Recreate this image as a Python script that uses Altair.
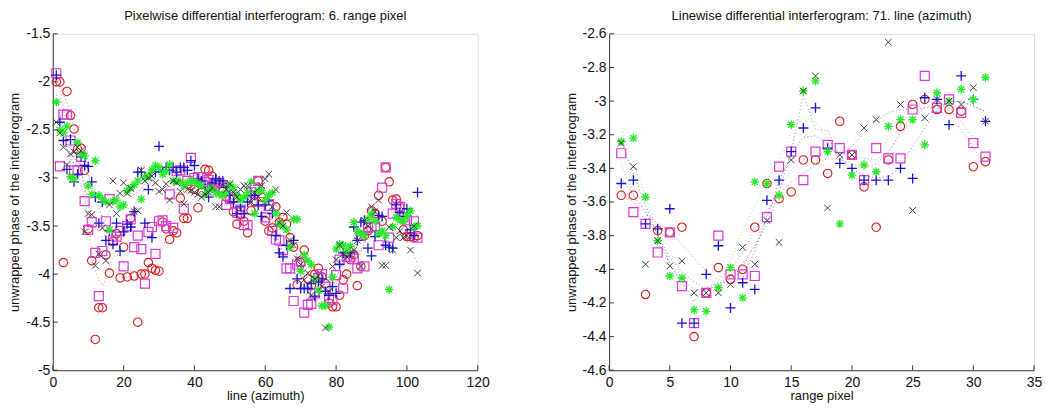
import altair as alt
import pandas as pd

# ---------------- Left panel: pixelwise (x = line (azimuth), 1..103) ----------------
left_x = list(range(1, 104))
left_red = [-2.00, -2.00, -3.88, -2.10, -2.35, -2.49, -2.70, -2.69, -2.92, -3.53,
            -3.86, -4.68, -4.35, -4.35, -3.80, -3.99, -3.66, -3.58, -4.04, -3.72,
            -4.03, -3.42, -4.02, -4.50, -4.00, -4.00, -3.88, -3.94, -3.96, -3.97,
            -3.46, -3.53, -3.64, -3.55, -3.57, -3.21, -3.42, -3.42, -3.08, -3.12,
            -3.31, -3.15, -2.91, -2.92, -2.98, -3.10, -3.05, -3.12, -3.20, -3.22,
            -3.35, -3.48, -3.38, -3.45, -3.57, -3.34, -3.25, -3.03, -3.20, -3.45,
            -3.55, -3.52, -3.30, -3.46, -3.41, -3.48, -3.62, -3.72, -4.11, -3.88,
            -3.75, -4.05, -4.12, -4.00, -3.94, -4.03, -4.10, -4.30, -4.34, -4.34,
            -4.22, -4.06, -4.00, -3.85, -3.80, -4.12, -3.92, -3.60, -3.55, -3.34,
            -3.37, -3.18, -3.45, -2.89, -3.04, -3.23, -3.22, -3.30, -3.54, -3.61,
            -3.61, -3.62, -3.60]
left_magenta = [-1.91, -2.88, -2.34, -2.34, -2.61, -2.92, -2.92, -2.78, -3.24, -3.54,
                -3.46, -3.78, -4.23, -3.76, -3.45, -3.22, -3.65, -3.61, -3.55, -3.92,
                -3.50, -3.43, -3.72, -3.60, -3.74, -4.10, -3.56, -3.51, -3.79, -3.45,
                -3.44, -3.50, -3.17, -3.52, -2.93, -2.92, -3.32, -3.03, -2.79, -3.00,
                -2.99, -2.99, -3.04, -3.02, -3.08, -3.05, -3.05, -3.10, -3.28, -3.22,
                -3.20, -3.36, -3.33, -3.49, -3.49, -3.15, -3.10, -3.03, -3.25, -3.41,
                -3.29, -3.55, -3.64, -3.65, -3.75, -3.94, -3.94, -4.28, -3.90, -3.87,
                -4.40, -4.32, -4.31, -4.20, -4.04, -4.00, -4.13, -4.25, -4.27, -4.01,
                -3.85, -4.15, -3.82, -3.82, -3.84, -3.94, -3.60, -3.92, -3.52, -3.51,
                -3.50, -3.70, -3.10, -2.89, -3.62, -3.37, -3.27, -3.30, -3.41, -3.44,
                -3.58, -3.45, -3.62]
left_blue = [-1.93, -2.42, -2.61, -2.91, -2.60, -3.04, -2.96, -2.78, -2.87, -2.88,
             -3.04, -3.20, -3.47, -3.25, -3.65, -3.55, -3.69, -3.47, -3.76, -3.56,
             -3.48, -3.51, -3.35, -2.94, -2.94, -3.47, -3.12, -3.62, -2.94, -2.67,
             -2.93, -2.89, -2.92, -2.89, -2.94, -2.89, -2.89, -2.92, -2.82, -2.87,
             -3.01, -3.03, -3.10, -3.20, -3.05, -3.01, -3.03, -3.03, -3.10, -3.18,
             -3.25, -3.37, -3.30, -3.37, -3.25, -3.18, -3.18, -3.28, -3.40, -3.28,
             -3.23, -3.37, -3.60, -3.78, -3.82, -3.70, -4.15, -3.65, -4.05, -4.15,
             -4.15, -4.15, -4.10, -4.23, -4.08, -4.05, -4.18, -4.22, -4.13, -4.20,
             -3.90, -3.78, -3.78, -3.78, -3.51, -3.65, -3.46, -3.44, -3.73, -3.81,
             -3.61, -3.39, -3.40, -3.70, -3.72, -3.73, -3.28, -3.36, -3.40, -3.32,
             -3.54, -3.60, -3.15]
left_black = [-2.42, -2.53, -2.68, -2.86, -2.75, -2.73, -2.68, -2.72, -3.56, -3.37,
              -3.38, -3.91, -3.79, -3.52, -3.86, -3.28, -3.03, -3.37, -3.16, -3.05,
              -3.16, -3.11, -3.35, -3.34, -2.92, -3.03, -3.00, -2.98, -3.05, -3.14,
              -3.12, -3.06, -3.23, -3.03, -3.05, -3.14, -3.27, -3.12, -3.13, -3.15,
              -3.17, -3.20, -3.17, -3.15, -3.10, -3.30, -3.30, -3.08, -3.12, -3.06,
              -3.15, -3.20, -3.12, -3.08, -3.08, -3.25, -3.15, -3.20, -3.08, -3.01,
              -2.96, -3.30, -3.12, -3.46, -3.50, -3.36, -3.65, -3.70, -3.84, -3.90,
              -4.06, -3.99, -4.22, -4.05, -4.02, -4.13, -4.56, -4.18, -3.92, -3.85,
              -3.70, -3.79, -3.82, -3.80, -3.75, -3.65, -3.92, -3.44, -3.50, -3.30,
              -3.35, -3.23, -3.91, -3.91, -3.51, -3.75, -3.62, -3.55, -3.62, -3.60,
              -3.75, -3.50, -3.99]
left_green = [-2.21, -2.50, -2.53, -2.46, -2.99, -3.01, -2.63, -2.75, -2.77, -3.08,
              -3.17, -2.82, -3.18, -3.22, -3.25, -3.54, -3.24, -3.23, -3.30, -3.28,
              -3.13, -3.10, -3.07, -3.03, -3.22, -2.99, -2.98, -2.92, -2.87, -2.89,
              -2.96, -2.93, -2.86, -3.03, -3.03, -3.04, -3.08, -3.05, -3.03, -3.04,
              -3.06, -3.08, -3.17, -3.12, -3.11, -3.15, -3.17, -3.18, -3.15, -3.07,
              -3.10, -3.18, -3.23, -3.20, -3.15, -3.04, -3.37, -3.13, -3.13, -3.23,
              -3.18, -3.15, -3.37, -3.48, -3.50, -3.54, -3.72, -3.43, -3.43, -3.97,
              -3.80, -3.86, -3.90, -4.05, -4.17, -4.33, -4.33, -4.55, -4.03, -3.74,
              -3.69, -3.70, -3.76, -3.71, -3.46, -3.55, -3.58, -3.60, -3.43, -3.37,
              -3.45, -3.58, -3.55, -3.60, -4.16, -3.51, -3.41, -3.44, -3.45, -3.39,
              -3.34, -3.51, -3.50]

# ---------------- Right panel: linewise (x = range pixel, 1..31) ----------------
right_x = list(range(1, 32))
right_red = [-3.56, -3.56, -4.15, -3.77, -3.78, -3.75, -4.40, -4.14, -3.99, -4.06,
             -4.00, -3.75, -3.49, -3.58, -3.54, -3.35, -3.35, -3.43, -3.12, -3.32,
             -3.51, -3.75, -3.35, -3.15, -3.02, -2.99, -3.05, -3.05, -3.06, -3.39,
             -3.36]
right_magenta = [-3.31, -3.66, -3.73, -3.90, -3.78, -4.10, -4.32, -4.14, -3.80, -4.03,
                 -4.03, -4.04, -3.69, -3.39, -3.30, -3.47, -3.30, -3.26, -3.28, -3.32,
                 -3.47, -3.28, -3.34, -3.34, -3.05, -2.85, -3.04, -2.99, -3.07, -3.25,
                 -3.33]
right_blue = [-3.49, -3.47, -3.73, -3.76, -3.64, -4.32, -4.32, -4.03, -3.86, -4.23,
              -4.08, -4.12, -3.59, -3.47, -3.30, -3.16, -3.04, -3.28, -3.37, -3.40,
              -3.47, -3.47, -3.47, -3.40, -3.46, -2.98, -2.99, -3.14, -2.85, -2.99,
              -3.12]
right_black = [-3.25, -3.39, -3.97, -3.83, -3.98, -3.95, -4.14, -4.14, -4.14, -4.09,
               -3.87, -3.97, -3.71, -3.84, -3.35, -2.94, -2.85, -3.635, -3.32, -3.32,
               -3.16, -3.11, -2.65, -3.02, -3.65, -3.10, -2.99, -3.00, -3.02, -2.92,
               -3.12]
right_green = [-3.24, -3.22, -3.57, -3.83, -4.04, -4.05, -4.24, -4.25, -4.11, -3.99,
               -4.17, -3.48, -3.49, -3.56, -3.14, -2.94, -2.88, -3.30, -3.73, -3.44,
               -3.38, -3.42, -3.15, -3.11, -3.11, -3.26, -2.95, -3.00, -2.93, -2.99,
               -2.86]

# axis tick values
left_xticks = [0, 20, 40, 60, 80, 100, 120]
left_yticks = [-5, -4.5, -4, -3.5, -3, -2.5, -2, -1.5]
right_xticks = [0, 5, 10, 15, 20, 25, 30, 35]
right_yticks = [-4.6, -4.4, -4.2, -4, -3.8, -3.6, -3.4, -3.2, -3, -2.8, -2.6]

SERIES = ["red", "magenta", "blue", "green", "black"]
COLORS = {"red": "#d81c1c", "magenta": "#d83ad8", "blue": "#1414cc",
          "black": "#3c3c3c", "green": "#2ae82a"}
PLUS = "M-1,0L1,0M0,-1L0,1"
XMARK = "M-1,-1L1,1M-1,1L1,-1"
STAR = "M-1,0L1,0M0,-1L0,1M-0.72,-0.72L0.72,0.72M-0.72,0.72L0.72,-0.72"
SHAPES = {"red": "circle", "magenta": "square", "blue": PLUS, "black": XMARK, "green": STAR}
SIZES = {"red": 72, "magenta": 82, "blue": 100, "black": 44, "green": 72}
WIDTHS = {"red": 1.1, "magenta": 1.2, "blue": 1.3, "black": 1.0, "green": 1.4}

FONT = "Liberation Sans"
AXC = "#3a3a3a"
W, H = 427, 338


def panel(xs, data, xdom, ydom, xticks, yticks, title, xtitle, bw):
    rows = []
    for name in SERIES:
        for xv, yv in zip(xs, data[name]):
            rows.append({"x": xv, "y": yv, "s": name})
    df = pd.DataFrame(rows)
    xsc = alt.Scale(domain=xdom, nice=False, zero=False)
    ysc = alt.Scale(domain=ydom, nice=False, zero=False)
    common = dict(grid=False, tickSize=0, domainColor=AXC, domainWidth=1,
                  labelFont=FONT, labelFontSize=14, labelColor="#111111",
                  titleFont=FONT, titleFontSize=13, titleFontWeight="normal",
                  titleColor="#111111", labelExpr="toString(datum.value)",
                  labelFlush=False, labelOverlap=False)
    xax = alt.Axis(values=xticks, labelPadding=5, titlePadding=0, **common)
    yax = alt.Axis(values=yticks, labelPadding=3, titlePadding=4, **common)

    def X(f):
        return alt.X(f, scale=xsc, axis=xax, title=xtitle)

    def Y(f):
        return alt.Y(f, scale=ysc, axis=yax, title="unwrapped phase of the interferogram")

    base = alt.Chart(df)
    layers = []
    for name in SERIES:
        layers.append(
            base.transform_filter(alt.datum.s == name)
            .transform_loess("x", "y", bandwidth=bw)
            .mark_line(strokeDash=[1, 2.5], strokeWidth=1, opacity=0.55,
                       color=COLORS[name], clip=True)
            .encode(x=X("x:Q"), y=Y("y:Q"))
        )
    for name in SERIES:
        layers.append(
            base.transform_filter(alt.datum.s == name)
            .mark_point(shape=SHAPES[name], size=SIZES[name], filled=False,
                        strokeWidth=WIDTHS[name], color=COLORS[name], opacity=1)
            .encode(x=X("x:Q"), y=Y("y:Q"))
        )
    xt = (alt.Chart(pd.DataFrame({"t": xticks}))
          .mark_rule(color=AXC, strokeWidth=1)
          .encode(x=X("t:Q"), y=alt.value(H), y2=alt.value(H - 5)))
    yt = (alt.Chart(pd.DataFrame({"t": yticks}))
          .mark_rule(color=AXC, strokeWidth=1)
          .encode(y=Y("t:Q"), x=alt.value(0), x2=alt.value(5)))
    layers += [xt, yt]
    return alt.layer(*layers).properties(
        width=W, height=H,
        title=alt.TitleParams(title, font=FONT, fontSize=13, fontWeight="normal",
                              color="#111111", offset=4, anchor="middle"),
    )


left = panel(left_x, {"red": left_red, "magenta": left_magenta, "blue": left_blue,
                      "black": left_black, "green": left_green},
             [0, 120], [-5, -1.5], left_xticks, left_yticks,
             "Pixelwise differential interferogram: 6. range pixel",
             "line (azimuth)", 0.08)
right = panel(right_x, {"red": right_red, "magenta": right_magenta, "blue": right_blue,
                        "black": right_black, "green": right_green},
              [0, 35], [-4.6, -2.6], right_xticks, right_yticks,
              "Linewise differential interferogram: 71. line (azimuth)",
              "range pixel", 0.2)

chart = (alt.hconcat(left, right, spacing=74)
         .properties(padding={"left": 0, "top": 0, "right": 0, "bottom": 0})
         .configure_view(stroke=None)
         .configure(background="white"))

chart.save("out.html", embed_options={"renderer": "svg", "actions": False})
